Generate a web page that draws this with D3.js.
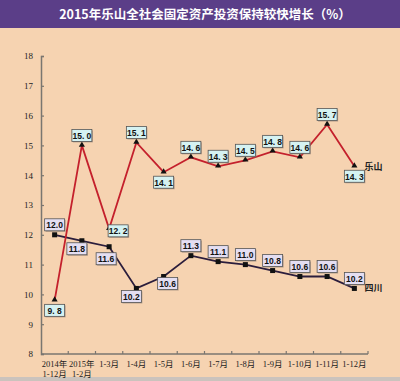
<!DOCTYPE html>
<html><head><meta charset="utf-8">
<script src="https://cdn.jsdelivr.net/npm/d3@7"></script>
<style>body{margin:0;padding:0;background:#f6d3b1}svg{display:block}</style>
</head><body><svg id="c" width="400" height="381"></svg>
<script>
const categories = [["2014年","1-12月"],["2015年","1-2月"],["1-3月"],["1-4月"],["1-5月"],["1-6月"],["1-7月"],["1-8月"],["1-9月"],["1-10月"],["1-11月"],["1-12月"]];
const leshan = [9.8,15.0,12.2,15.1,14.1,14.6,14.3,14.5,14.8,14.6,15.7,14.3];
const sichuan = [12.0,11.8,11.6,10.2,10.6,11.3,11.1,11.0,10.8,10.6,10.6,10.2];
const yTicks = [8,9,10,11,12,13,14,15,16,17,18];
const leshanPlace = ["b","a","r","a","b","a","a","a","a","a","a","b"];
const sichuanPlace = ["a","bl","bl2","bl","br","a","a","a","a","a","a","a"];
const title = "2015年乐山全社会固定资产投资保持较快增长（%）";

(function(){
const svg = d3.select("#c");
const W = 400, H = 381;
svg.append("rect").attr("width",W).attr("height",H).attr("fill","#f6d3b1");
svg.append("rect").attr("width",W).attr("height",28).attr("fill","#5b3e88");
svg.append("rect").attr("x",0).attr("y",377).attr("width",W).attr("height",4).attr("fill","#cbc3bd");
svg.append("text").attr("x",205).attr("y",19).attr("text-anchor","middle")
  .attr("font-family","'Noto Sans CJK SC',sans-serif").attr("font-weight","bold")
  .attr("font-size",12.5).attr("fill","#ffffff").text(title);

const mLeft = 41, mRight = 368, mTop = 56, mBottom = 354;
const keys = categories.map((c,i)=>i);
const x = d3.scaleBand().domain(keys).range([mLeft,mRight]);
const cx = i => x(i) + x.bandwidth()/2;
const y = d3.scaleLinear().domain([8,18]).range([mBottom,mTop]);
const axisCol = "#7a7670";
const serif = "'Liberation Serif','Noto Sans CJK SC',serif";

// y axis
const ya = svg.append("g").attr("transform",`translate(${mLeft},0)`)
  .call(d3.axisLeft(y).tickValues(yTicks).tickSize(-3).tickPadding(8).tickFormat(d3.format("d")));
ya.select(".domain").attr("stroke",axisCol).attr("stroke-width",1.5);
ya.selectAll(".tick line").attr("stroke",axisCol).attr("stroke-width",1.2);
ya.selectAll(".tick text").attr("font-family",serif).attr("font-size",9).attr("fill","#222");

// x axis
const xa = svg.append("g").attr("transform",`translate(0,${mBottom})`);
xa.append("line").attr("x1",mLeft).attr("x2",mRight).attr("stroke",axisCol).attr("stroke-width",1.5);
keys.forEach(i=>{
  const bx = x(i)+x.bandwidth();
  xa.append("line").attr("x1",bx).attr("x2",bx).attr("y1",0).attr("y2",-3).attr("stroke",axisCol).attr("stroke-width",1.2);
  const t = xa.append("text").attr("x",cx(i)).attr("text-anchor","middle")
    .attr("font-family",serif).attr("font-size",8.5).attr("fill","#222");
  categories[i].forEach((s,j)=>t.append("tspan").attr("x",cx(i)).attr("y",13+j*9.5).text(s));
});

// lines
const line = d3.line().x((d,i)=>cx(i)).y(d=>y(d));
svg.append("path").datum(sichuan).attr("d",line).attr("fill","none").attr("stroke","#2b1d3c").attr("stroke-width",1.8);
svg.append("path").datum(leshan).attr("d",line).attr("fill","none").attr("stroke","#c4202c").attr("stroke-width",1.8);

// markers
svg.selectAll(".sq").data(sichuan).enter().append("rect")
  .attr("x",(d,i)=>cx(i)-2.5).attr("y",d=>y(d)-2.5).attr("width",5).attr("height",5).attr("fill","#111");
svg.selectAll(".tri").data(leshan).enter().append("path")
  .attr("d",d3.symbol().type(d3.symbolTriangle).size(16))
  .attr("transform",(d,i)=>`translate(${cx(i)},${y(d)-0.5})`).attr("fill","#111");

// labels
const off = {a:[0,-10],b:[0,10],r:[9,2],bl:[-5,8],bl2:[-3,12],br:[4,7]};
function labels(vals, place, fill, fmt){
  vals.forEach((v,i)=>{
    const o = off[place[i]];
    const lx = cx(i)+o[0], ly = y(v)+o[1];
    const w = 20, h = 12;
    svg.append("rect").attr("x",lx-w/2+1).attr("y",ly-h/2+1).attr("width",w).attr("height",h).attr("fill","#8a7a70").attr("opacity",0.6);
    svg.append("rect").attr("x",lx-w/2).attr("y",ly-h/2).attr("width",w).attr("height",h)
      .attr("fill",fill).attr("stroke","#555").attr("stroke-width",0.8);
    svg.append("text").attr("x",lx).attr("y",ly+3.3).attr("text-anchor","middle")
      .attr("font-family","'Liberation Sans',sans-serif").attr("font-weight","bold").attr("font-size",8.5)
      .attr("fill","#111").text(fmt(v));
  });
}
labels(leshan, leshanPlace, "#d5f2f2", v=>v.toFixed(1).replace(".",". "));
labels(sichuan, sichuanPlace, "#e4def2", v=>v.toFixed(1));

// series names
const n = leshan.length-1;
svg.append("text").attr("x",cx(n)+10).attr("y",y(leshan[n])+4)
  .attr("font-family","'Noto Sans CJK SC',serif").attr("font-weight","bold").attr("font-size",9).attr("fill","#222").text("乐山");
svg.append("text").attr("x",cx(n)+10).attr("y",y(sichuan[n])+3)
  .attr("font-family","'Noto Sans CJK SC',serif").attr("font-weight","bold").attr("font-size",9).attr("fill","#222").text("四川");
})();
</script></body></html>
